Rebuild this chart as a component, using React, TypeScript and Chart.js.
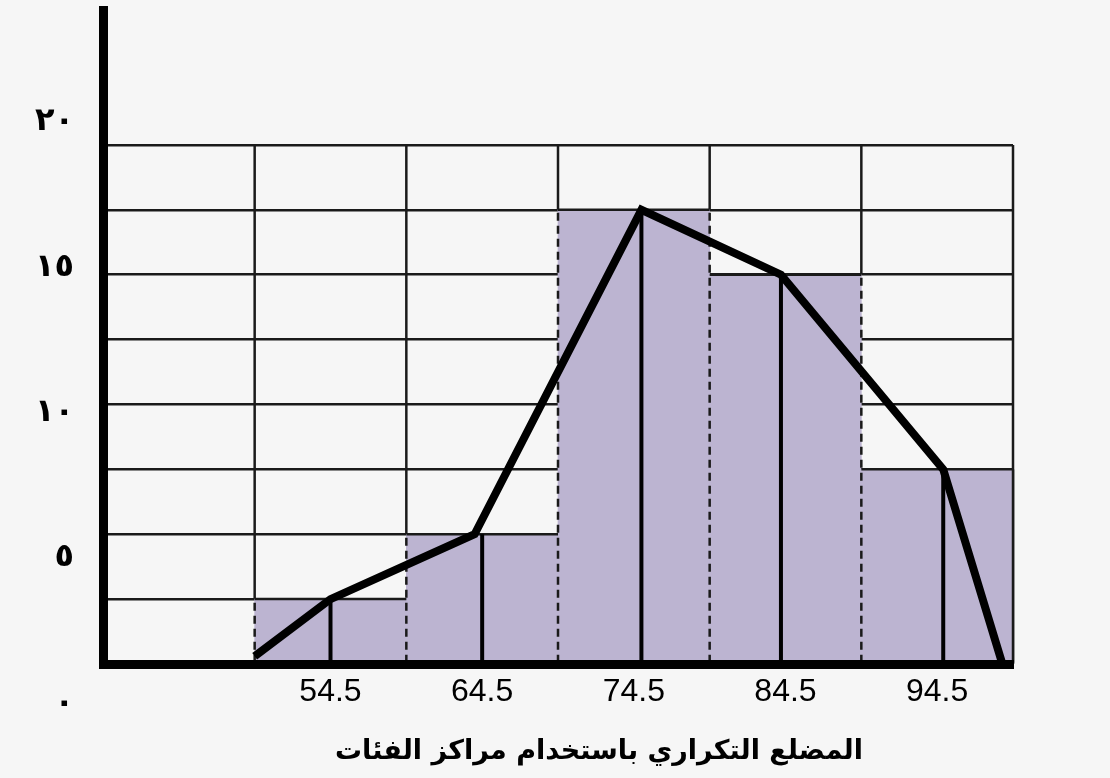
import React, { useEffect, useRef } from 'react';
import { Chart, registerables } from 'chart.js';

Chart.register(...registerables);

// Histogram classes
const CLASS_MARKS = [54.5, 64.5, 74.5, 84.5, 94.5];
const FREQUENCIES = [2.5, 5, 17.5, 15, 7.5];
const CLASS_BOUNDARIES = [49.5, 59.5, 69.5, 79.5, 89.5, 99.5];

// Frequency polygon (as drawn)
const POLYGON_X = [49.5, 54.5, 64.0, 75.0, 84.2, 94.9, 98.8];
const POLYGON_Y = [0.3, 2.5, 5, 17.5, 15, 7.5, 0];

// Vertical drop lines from polygon vertices
const DROP_X = [54.5, 64.5, 75.0, 84.2, 94.9];
const DROP_Y = [2.5, 5, 17.5, 15, 7.5];

// Axes
const X_MIN = 39.5;
const X_MAX = 99.5;
const X_TICKS = [54.5, 64.5, 74.5, 84.5, 94.5];
const X_TICK_LABELS = ['54.5', '64.5', '74.5', '84.5', '94.5'];
const Y_GRID = [0, 2.5, 5, 7.5, 10, 12.5, 15, 17.5, 20];
const Y_MAX = 25.2;
const Y_LABEL_VALUES = [0, 5, 10, 15, 20];
const Y_LABELS = ['٠', '٥', '١٠', '١٥', '٢٠'];
const TITLE = 'المضلع التكراري باستخدام مراكز الفئات';

const GRID_COLOR = '#1a1a1a';
const BAR_COLOR = '#bcb4d1';

const histPlugin = {
  id: 'histDecor',
  beforeDatasetsDraw(chart: any) {
    const { ctx } = chart;
    const x = chart.scales.x;
    const y = chart.scales.y;
    const top = y.getPixelForValue(Y_GRID[Y_GRID.length - 1]);
    ctx.save();
    ctx.strokeStyle = GRID_COLOR;
    ctx.lineWidth = 2.5;
    CLASS_BOUNDARIES.forEach((b, i) => {
      const left = i > 0 ? FREQUENCIES[i - 1] : 0;
      const right = i < FREQUENCIES.length ? FREQUENCIES[i] : 0;
      const low = i === CLASS_BOUNDARIES.length - 1 ? 0 : Math.max(left, right);
      const px = x.getPixelForValue(b);
      ctx.beginPath();
      ctx.moveTo(px, top);
      ctx.lineTo(px, y.getPixelForValue(low));
      ctx.stroke();
    });
    ctx.restore();
  },
  afterDatasetDraw(chart: any, args: any) {
    if (args.meta.type !== 'bar') return;
    const { ctx } = chart;
    const x = chart.scales.x;
    const y = chart.scales.y;
    const bars = args.meta.data.map((el: any) => el.getProps(['x', 'y', 'base', 'width'], true));
    ctx.save();
    // solid tops
    ctx.strokeStyle = GRID_COLOR;
    ctx.lineWidth = 2.5;
    bars.forEach((b: any) => {
      ctx.beginPath();
      ctx.moveTo(b.x - b.width / 2, b.y);
      ctx.lineTo(b.x + b.width / 2, b.y);
      ctx.stroke();
    });
    // dashed sides (one per boundary, up to the taller neighbour)
    for (let j = 0; j <= bars.length; j++) {
      const lb = j > 0 ? bars[j - 1] : null;
      const rb = j < bars.length ? bars[j] : null;
      const px = rb ? rb.x - rb.width / 2 : lb.x + lb.width / 2;
      const base = (rb || lb).base;
      const topPx = Math.min(lb ? lb.y : base, rb ? rb.y : base);
      if (j === bars.length) ctx.setLineDash([]);
      else ctx.setLineDash([8, 5]);
      ctx.beginPath();
      ctx.moveTo(px, base);
      ctx.lineTo(px, topPx);
      ctx.stroke();
    }
    ctx.setLineDash([]);
    // drop lines from polygon vertices
    ctx.strokeStyle = '#000';
    ctx.lineWidth = 4;
    DROP_X.forEach((dx, i) => {
      const px = x.getPixelForValue(dx);
      ctx.beginPath();
      ctx.moveTo(px, y.getPixelForValue(DROP_Y[i]));
      ctx.lineTo(px, y.getPixelForValue(0));
      ctx.stroke();
    });
    ctx.restore();
  },
  afterDraw(chart: any) {
    const { ctx, chartArea } = chart;
    const yl = chart.scales.yLab;
    ctx.save();
    ctx.fillStyle = '#000';
    ctx.font = 'bold 32px "DejaVu Sans", sans-serif';
    ctx.textAlign = 'right';
    ctx.textBaseline = 'middle';
    Y_LABEL_VALUES.forEach((v, i) => {
      ctx.fillText(Y_LABELS[i], 74, yl.getPixelForValue(v));
    });
    // axis caption under the x labels
    ctx.font = 'bold 27px "DejaVu Sans", sans-serif';
    ctx.textAlign = 'center';
    ctx.fillText(TITLE, chartArea.left + (chartArea.right - chartArea.left) * 0.545, 752);
    ctx.restore();
  },
};

export default function App() {
  const ref = useRef<HTMLCanvasElement>(null);

  useEffect(() => {
    if (!ref.current) return;
    const chart = new Chart(ref.current, {
      type: 'bar',
      data: {
        datasets: [
          {
            type: 'line',
            data: POLYGON_X.map((vx, i) => ({ x: vx, y: POLYGON_Y[i] })),
            borderColor: '#000',
            borderWidth: 8,
            pointRadius: 0,
            tension: 0,
            fill: false,
            borderJoinStyle: 'miter',
            borderCapStyle: 'butt',
            order: 0,
          } as any,
          {
            type: 'bar',
            data: CLASS_MARKS.map((vx, i) => ({ x: vx, y: FREQUENCIES[i] })),
            backgroundColor: BAR_COLOR,
            borderWidth: 0,
            barPercentage: 1,
            categoryPercentage: 1,
            order: 1,
          } as any,
        ],
      },
      options: {
        animation: false,
        responsive: false,
        devicePixelRatio: 1,
        layout: { padding: { left: 0, right: 97, top: 10, bottom: 0 } },
        plugins: {
          legend: { display: false },
          tooltip: { enabled: false },
          title: { display: false },
        },
        scales: {
          x: {
            type: 'linear',
            min: X_MIN,
            max: X_MAX,
            offset: false,
            grid: { display: false, drawTicks: false, offset: false },
            border: { display: true, color: '#000', width: 9, z: 1 },
            afterBuildTicks: (s: any) => {
              s.ticks = X_TICKS.map((v) => ({ value: v }));
            },
            afterFit: (s: any) => {
              s.height = 114;
            },
            ticks: {
              autoSkip: false,
              maxRotation: 0,
              minRotation: 0,
              padding: 9,
              color: '#000',
              font: { family: '"Liberation Sans", Arial, sans-serif', size: 32 },
              callback: (_v: any, i: number) => X_TICK_LABELS[i],
            },
          },
          y: {
            type: 'linear',
            min: 0,
            max: Y_MAX,
            grid: { color: GRID_COLOR, lineWidth: 2.5, drawTicks: false },
            border: { display: true, color: '#000', width: 9, z: 1 },
            ticks: { display: false },
            afterBuildTicks: (s: any) => {
              s.ticks = Y_GRID.map((v) => ({ value: v }));
            },
            afterFit: (s: any) => {
              s.width = 103;
            },
          },
          yLab: {
            type: 'linear',
            position: 'left',
            display: false,
            min: 1.35,
            max: 23.86,
          },
        },
      } as any,
      plugins: [histPlugin],
    });
    return () => chart.destroy();
  }, []);

  return (
    <div
      style={{
        position: 'fixed',
        left: 0,
        top: 0,
        width: 1110,
        height: 778,
        background: '#f6f6f6',
      }}
    >
      <canvas ref={ref} width={1110} height={778} style={{ display: 'block' }} />
    </div>
  );
}
